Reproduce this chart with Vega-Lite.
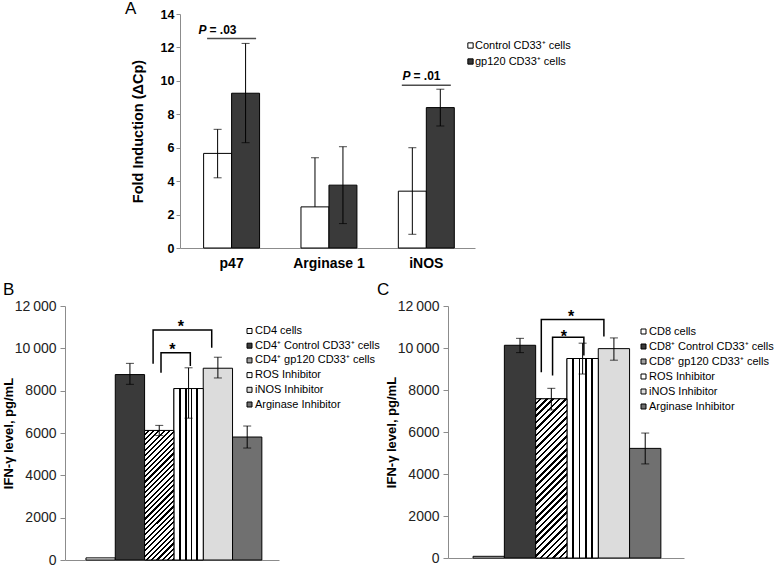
{
  "$schema": "https://vega.github.io/schema/vega-lite/v6.json",
  "padding": {"left": 2, "top": 0, "right": 5, "bottom": 5},
  "background": "white",
  "config": {
    "font": "Liberation Sans",
    "view": {"stroke": null},
    "axis": {"grid": false, "domainColor": "#8c8c8c", "tickColor": "#8c8c8c", "labelColor": "#000000", "titleColor": "#000000", "labelFont": "Liberation Sans", "titleFont": "Liberation Sans"},
    "legend": {"labelFont": "Liberation Sans", "labelColor": "#000000"}
  },
  "resolve": {"scale": {"color": "independent"}, "legend": {"color": "independent"}},
  "columns": 2,
  "spacing": {"row": 58, "column": 169},
  "align": "each",
  "bounds": "flush",
  "concat": [
    {
      "width": 214,
      "height": 234,
      "title": {"text": "A", "anchor": "start", "frame": "group", "dx": 60, "offset": -23, "baseline": "alphabetic", "fontSize": 17, "fontWeight": "normal"},
      "data": {"values": [
        {"gene": "p47", "group": "Control CD33⁺ cells", "v": 5.66, "lo": 4.2, "hi": 7.1},
        {"gene": "p47", "group": "gp120 CD33⁺ cells", "v": 9.26, "lo": 6.3, "hi": 12.24},
        {"gene": "Arginase 1", "group": "Control CD33⁺ cells", "v": 2.46, "lo": 2.46, "hi": 5.4},
        {"gene": "Arginase 1", "group": "gp120 CD33⁺ cells", "v": 3.76, "lo": 1.46, "hi": 6.06},
        {"gene": "iNOS", "group": "Control CD33⁺ cells", "v": 3.4, "lo": 0.82, "hi": 6.0},
        {"gene": "iNOS", "group": "gp120 CD33⁺ cells", "v": 8.4, "lo": 7.3, "hi": 9.5}
      ]},
      "layer": [
        {
          "mark": {"type": "bar", "stroke": "black", "strokeWidth": 1},
          "encoding": {
            "x": {"field": "gene", "type": "nominal", "scale": {"domain": ["p47", "Arginase 1", "iNOS"], "range": [115, 410], "paddingInner": 0, "paddingOuter": 0.015, "align": 1}, "axis": {"title": null, "labelAngle": 0, "labelFontSize": 14, "labelFontWeight": "bold", "ticks": false, "tickSize": 0, "labelPadding": 8}},
            "xOffset": {"field": "group", "type": "nominal", "scale": {"domain": ["Control CD33⁺ cells", "gp120 CD33⁺ cells"], "paddingInner": 0, "paddingOuter": 0.74}},
            "y": {"field": "v", "type": "quantitative", "title": "Fold Induction (ΔCp)", "scale": {"domain": [0, 14]}, "axis": {"values": [0, 2, 4, 6, 8, 10, 12, 14], "tickCount": 8, "labelOverlap": false, "offset": -115, "tickSize": 4, "labelPadding": 2, "labelFontSize": 12.5, "labelFontWeight": "bold", "titleFontSize": 14.5, "titleFontWeight": "bold", "titlePadding": 15}},
            "color": {"field": "group", "type": "nominal", "scale": {"domain": ["Control CD33⁺ cells", "gp120 CD33⁺ cells"], "range": ["#ffffff", "#3a3a3a"]}, "legend": {"orient": "none", "legendX": 400, "legendY": 26, "title": null, "symbolType": "square", "symbolSize": 28, "symbolStrokeColor": "black", "symbolStrokeWidth": 1, "labelFontSize": 11, "labelOffset": -1, "rowPadding": 4, "padding": 0, "labelLimit": 300}}
          }
        },
        {
          "mark": {"type": "rule", "color": "black", "strokeWidth": 1},
          "encoding": {
            "x": {"field": "gene", "type": "nominal", "scale": {"domain": ["p47", "Arginase 1", "iNOS"]}},
            "xOffset": {"field": "group", "type": "nominal", "scale": {"domain": ["Control CD33⁺ cells", "gp120 CD33⁺ cells"]}},
            "y": {"field": "lo", "type": "quantitative", "title": "Fold Induction (ΔCp)"},
            "y2": {"field": "hi"}
          }
        },
        {
          "mark": {"type": "tick", "color": "black", "size": 8, "thickness": 1},
          "encoding": {
            "x": {"field": "gene", "type": "nominal", "scale": {"domain": ["p47", "Arginase 1", "iNOS"]}},
            "xOffset": {"field": "group", "type": "nominal", "scale": {"domain": ["Control CD33⁺ cells", "gp120 CD33⁺ cells"]}},
            "y": {"field": "hi", "type": "quantitative", "title": "Fold Induction (ΔCp)"}
          }
        },
        {
          "transform": [{"filter": "datum.lo < datum.v"}],
          "mark": {"type": "tick", "color": "black", "size": 8, "thickness": 1},
          "encoding": {
            "x": {"field": "gene", "type": "nominal", "scale": {"domain": ["p47", "Arginase 1", "iNOS"]}},
            "xOffset": {"field": "group", "type": "nominal", "scale": {"domain": ["Control CD33⁺ cells", "gp120 CD33⁺ cells"]}},
            "y": {"field": "lo", "type": "quantitative", "title": "Fold Induction (ΔCp)"}
          }
        },
        {
          "data": {"values": [{"gene": "p47", "y": 12.54}]},
          "mark": {"type": "tick", "color": "black", "size": 49, "thickness": 1.5},
          "encoding": {
            "x": {"field": "gene", "type": "nominal", "bandPosition": 0.355, "scale": {"domain": ["p47", "Arginase 1", "iNOS"]}},
            "y": {"field": "y", "type": "quantitative", "title": "Fold Induction (ΔCp)"}
          }
        },
        {
          "data": {"values": [{"gene": "iNOS", "y": 9.74}]},
          "mark": {"type": "tick", "color": "black", "size": 49, "thickness": 1.5},
          "encoding": {
            "x": {"field": "gene", "type": "nominal", "bandPosition": 0.45, "scale": {"domain": ["p47", "Arginase 1", "iNOS"]}},
            "y": {"field": "y", "type": "quantitative", "title": "Fold Induction (ΔCp)"}
          }
        },
        {
          "data": {"values": [{"gene": "p47", "t": 13.05, "p": "P", "rest": "= .03"}]},
          "encoding": {
            "x": {"field": "gene", "type": "nominal", "bandPosition": 0.355, "scale": {"domain": ["p47", "Arginase 1", "iNOS"]}},
            "y": {"field": "t", "type": "quantitative", "title": "Fold Induction (ΔCp)"}
          },
          "layer": [
            {"mark": {"type": "text", "fontSize": 12, "fontWeight": "bold", "fontStyle": "italic", "baseline": "middle", "align": "left", "dx": -19}, "encoding": {"text": {"field": "p"}}},
            {"mark": {"type": "text", "fontSize": 12, "fontWeight": "bold", "baseline": "middle", "align": "left", "dx": -8}, "encoding": {"text": {"field": "rest"}}}
          ]
        },
        {
          "data": {"values": [{"gene": "iNOS", "t": 10.3, "p": "P", "rest": "= .01"}]},
          "encoding": {
            "x": {"field": "gene", "type": "nominal", "bandPosition": 0.45, "scale": {"domain": ["p47", "Arginase 1", "iNOS"]}},
            "y": {"field": "t", "type": "quantitative", "title": "Fold Induction (ΔCp)"}
          },
          "layer": [
            {"mark": {"type": "text", "fontSize": 12, "fontWeight": "bold", "fontStyle": "italic", "baseline": "middle", "align": "left", "dx": -19}, "encoding": {"text": {"field": "p"}}},
            {"mark": {"type": "text", "fontSize": 12, "fontWeight": "bold", "baseline": "middle", "align": "left", "dx": -8}, "encoding": {"text": {"field": "rest"}}}
          ]
        }
      ]
    },
    {
      "width": 1,
      "height": 234,
      "data": {"values": []},
      "mark": "point"
    },
    {
      "width": 214,
      "height": 254,
      "title": {"text": "B", "anchor": "start", "frame": "group", "dx": -62, "offset": -13, "baseline": "alphabetic", "fontSize": 17, "fontWeight": "normal"},
      "data": {"values": [
        {"cond": "CD4 cells", "v": 100, "lo": 100, "hi": 100},
        {"cond": "CD4⁺ Control CD33⁺ cells", "v": 8760, "lo": 8300, "hi": 9290},
        {"cond": "CD4⁺ gp120 CD33⁺ cells", "v": 6120, "lo": 5880, "hi": 6360},
        {"cond": "ROS Inhibitor", "v": 8100, "lo": 6700, "hi": 9080},
        {"cond": "iNOS Inhibitor", "v": 9060, "lo": 8600, "hi": 9580},
        {"cond": "Arginase Inhibitor", "v": 5810, "lo": 5290, "hi": 6330}
      ]},
      "layer": [
        {
          "mark": {"type": "bar", "stroke": "black", "strokeWidth": 1},
          "encoding": {
            "x": {"field": "cond", "type": "nominal", "scale": {"domain": ["CD4 cells", "CD4⁺ Control CD33⁺ cells", "CD4⁺ gp120 CD33⁺ cells", "ROS Inhibitor", "iNOS Inhibitor", "Arginase Inhibitor"], "paddingInner": 0, "paddingOuter": 0.65, "align": 0.55}, "axis": {"title": null, "labels": false, "ticks": false, "tickSize": 0}},
            "y": {"field": "v", "type": "quantitative", "title": "IFN-γ level, pg/mL", "scale": {"domain": [0, 12000]}, "axis": {"values": [0, 2000, 4000, 6000, 8000, 10000, 12000], "labelExpr": "datum.value >= 10000 ? replace(format(datum.value, ','), ',', '\u2009') : format(datum.value, 'd')", "tickSize": 5, "labelPadding": 4, "labelFontSize": 14, "labelColor": "#222222", "titleFontSize": 13, "titleFontWeight": "bold", "titlePadding": -1.5}},
            "color": {"field": "cond", "type": "nominal", "scale": {"domain": ["CD4 cells", "CD4⁺ Control CD33⁺ cells", "CD4⁺ gp120 CD33⁺ cells", "ROS Inhibitor", "iNOS Inhibitor", "Arginase Inhibitor"], "range": ["#ffffff", "#3a3a3a", "#a0a0a0", "#ffffff", "#dcdcdc", "#707070"]}, "legend": {"orient": "none", "legendX": 179, "legendY": 19.5, "title": null, "symbolType": "square", "symbolSize": 25, "symbolStrokeColor": "black", "symbolStrokeWidth": 1, "labelFontSize": 11, "labelOffset": 0, "rowPadding": 2.7, "padding": 0, "labelLimit": 300}}
          }
        },
        {
          "transform": [{"filter": "datum.cond == 'ROS Inhibitor'"}],
          "mark": {"type": "bar", "stroke": "black", "strokeWidth": 1, "fill": {"gradient": "linear", "x1": 0, "y1": 0, "x2": 1, "y2": 0, "stops": [
            {"offset": 0, "color": "#ffffff"}, {"offset": 0.17, "color": "#ffffff"}, {"offset": 0.17, "color": "#000000"}, {"offset": 0.23, "color": "#000000"}, {"offset": 0.23, "color": "#ffffff"},
            {"offset": 0.37, "color": "#ffffff"}, {"offset": 0.37, "color": "#000000"}, {"offset": 0.43, "color": "#000000"}, {"offset": 0.43, "color": "#ffffff"},
            {"offset": 0.57, "color": "#ffffff"}, {"offset": 0.57, "color": "#000000"}, {"offset": 0.63, "color": "#000000"}, {"offset": 0.63, "color": "#ffffff"},
            {"offset": 0.77, "color": "#ffffff"}, {"offset": 0.77, "color": "#000000"}, {"offset": 0.83, "color": "#000000"}, {"offset": 0.83, "color": "#ffffff"}, {"offset": 1, "color": "#ffffff"}]}},
          "encoding": {
            "x": {"field": "cond", "type": "nominal", "scale": {"domain": ["CD4 cells", "CD4⁺ Control CD33⁺ cells", "CD4⁺ gp120 CD33⁺ cells", "ROS Inhibitor", "iNOS Inhibitor", "Arginase Inhibitor"]}},
            "y": {"field": "v", "type": "quantitative", "title": "IFN-γ level, pg/mL"}
          }
        },
        {
          "transform": [{"filter": "datum.cond == 'CD4⁺ gp120 CD33⁺ cells'"}],
          "mark": {"type": "bar", "stroke": "black", "strokeWidth": 1, "fill": {"gradient": "linear", "x1": 0, "y1": 0, "x2": 0.264, "y2": 1.167, "stops": [
            {"offset": 0, "color": "#ffffff"}, {"offset": 0.02, "color": "#ffffff"}, {"offset": 0.02, "color": "#000000"}, {"offset": 0.0333, "color": "#000000"},
            {"offset": 0.0333, "color": "#ffffff"}, {"offset": 0.0533, "color": "#ffffff"}, {"offset": 0.0533, "color": "#000000"}, {"offset": 0.0667, "color": "#000000"},
            {"offset": 0.0667, "color": "#ffffff"}, {"offset": 0.0867, "color": "#ffffff"}, {"offset": 0.0867, "color": "#000000"}, {"offset": 0.1, "color": "#000000"},
            {"offset": 0.1, "color": "#ffffff"}, {"offset": 0.12, "color": "#ffffff"}, {"offset": 0.12, "color": "#000000"}, {"offset": 0.1333, "color": "#000000"},
            {"offset": 0.1333, "color": "#ffffff"}, {"offset": 0.1533, "color": "#ffffff"}, {"offset": 0.1533, "color": "#000000"}, {"offset": 0.1667, "color": "#000000"},
            {"offset": 0.1667, "color": "#ffffff"}, {"offset": 0.1867, "color": "#ffffff"}, {"offset": 0.1867, "color": "#000000"}, {"offset": 0.2, "color": "#000000"},
            {"offset": 0.2, "color": "#ffffff"}, {"offset": 0.22, "color": "#ffffff"}, {"offset": 0.22, "color": "#000000"}, {"offset": 0.2333, "color": "#000000"},
            {"offset": 0.2333, "color": "#ffffff"}, {"offset": 0.2533, "color": "#ffffff"}, {"offset": 0.2533, "color": "#000000"}, {"offset": 0.2667, "color": "#000000"},
            {"offset": 0.2667, "color": "#ffffff"}, {"offset": 0.2867, "color": "#ffffff"}, {"offset": 0.2867, "color": "#000000"}, {"offset": 0.3, "color": "#000000"},
            {"offset": 0.3, "color": "#ffffff"}, {"offset": 0.32, "color": "#ffffff"}, {"offset": 0.32, "color": "#000000"}, {"offset": 0.3333, "color": "#000000"},
            {"offset": 0.3333, "color": "#ffffff"}, {"offset": 0.3533, "color": "#ffffff"}, {"offset": 0.3533, "color": "#000000"}, {"offset": 0.3667, "color": "#000000"},
            {"offset": 0.3667, "color": "#ffffff"}, {"offset": 0.3867, "color": "#ffffff"}, {"offset": 0.3867, "color": "#000000"}, {"offset": 0.4, "color": "#000000"},
            {"offset": 0.4, "color": "#ffffff"}, {"offset": 0.42, "color": "#ffffff"}, {"offset": 0.42, "color": "#000000"}, {"offset": 0.4333, "color": "#000000"},
            {"offset": 0.4333, "color": "#ffffff"}, {"offset": 0.4533, "color": "#ffffff"}, {"offset": 0.4533, "color": "#000000"}, {"offset": 0.4667, "color": "#000000"},
            {"offset": 0.4667, "color": "#ffffff"}, {"offset": 0.4867, "color": "#ffffff"}, {"offset": 0.4867, "color": "#000000"}, {"offset": 0.5, "color": "#000000"},
            {"offset": 0.5, "color": "#ffffff"}, {"offset": 0.52, "color": "#ffffff"}, {"offset": 0.52, "color": "#000000"}, {"offset": 0.5333, "color": "#000000"},
            {"offset": 0.5333, "color": "#ffffff"}, {"offset": 0.5533, "color": "#ffffff"}, {"offset": 0.5533, "color": "#000000"}, {"offset": 0.5667, "color": "#000000"},
            {"offset": 0.5667, "color": "#ffffff"}, {"offset": 0.5867, "color": "#ffffff"}, {"offset": 0.5867, "color": "#000000"}, {"offset": 0.6, "color": "#000000"},
            {"offset": 0.6, "color": "#ffffff"}, {"offset": 0.62, "color": "#ffffff"}, {"offset": 0.62, "color": "#000000"}, {"offset": 0.6333, "color": "#000000"},
            {"offset": 0.6333, "color": "#ffffff"}, {"offset": 0.6533, "color": "#ffffff"}, {"offset": 0.6533, "color": "#000000"}, {"offset": 0.6667, "color": "#000000"},
            {"offset": 0.6667, "color": "#ffffff"}, {"offset": 0.6867, "color": "#ffffff"}, {"offset": 0.6867, "color": "#000000"}, {"offset": 0.7, "color": "#000000"},
            {"offset": 0.7, "color": "#ffffff"}, {"offset": 0.72, "color": "#ffffff"}, {"offset": 0.72, "color": "#000000"}, {"offset": 0.7333, "color": "#000000"},
            {"offset": 0.7333, "color": "#ffffff"}, {"offset": 0.7533, "color": "#ffffff"}, {"offset": 0.7533, "color": "#000000"}, {"offset": 0.7667, "color": "#000000"},
            {"offset": 0.7667, "color": "#ffffff"}, {"offset": 0.7867, "color": "#ffffff"}, {"offset": 0.7867, "color": "#000000"}, {"offset": 0.8, "color": "#000000"},
            {"offset": 0.8, "color": "#ffffff"}, {"offset": 0.82, "color": "#ffffff"}, {"offset": 0.82, "color": "#000000"}, {"offset": 0.8333, "color": "#000000"},
            {"offset": 0.8333, "color": "#ffffff"}, {"offset": 0.8533, "color": "#ffffff"}, {"offset": 0.8533, "color": "#000000"}, {"offset": 0.8667, "color": "#000000"},
            {"offset": 0.8667, "color": "#ffffff"}, {"offset": 0.8867, "color": "#ffffff"}, {"offset": 0.8867, "color": "#000000"}, {"offset": 0.9, "color": "#000000"},
            {"offset": 0.9, "color": "#ffffff"}, {"offset": 0.92, "color": "#ffffff"}, {"offset": 0.92, "color": "#000000"}, {"offset": 0.9333, "color": "#000000"},
            {"offset": 0.9333, "color": "#ffffff"}, {"offset": 0.9533, "color": "#ffffff"}, {"offset": 0.9533, "color": "#000000"}, {"offset": 0.9667, "color": "#000000"},
            {"offset": 0.9667, "color": "#ffffff"}, {"offset": 0.9867, "color": "#ffffff"}, {"offset": 0.9867, "color": "#000000"}, {"offset": 1, "color": "#000000"}]}},
          "encoding": {
            "x": {"field": "cond", "type": "nominal", "scale": {"domain": ["CD4 cells", "CD4⁺ Control CD33⁺ cells", "CD4⁺ gp120 CD33⁺ cells", "ROS Inhibitor", "iNOS Inhibitor", "Arginase Inhibitor"]}},
            "y": {"field": "v", "type": "quantitative", "title": "IFN-γ level, pg/mL"}
          }
        },
        {
          "transform": [{"filter": "datum.hi > datum.v"}],
          "mark": {"type": "rule", "color": "black", "strokeWidth": 1},
          "encoding": {
            "x": {"field": "cond", "type": "nominal", "scale": {"domain": ["CD4 cells", "CD4⁺ Control CD33⁺ cells", "CD4⁺ gp120 CD33⁺ cells", "ROS Inhibitor", "iNOS Inhibitor", "Arginase Inhibitor"]}},
            "y": {"field": "lo", "type": "quantitative", "title": "IFN-γ level, pg/mL"},
            "y2": {"field": "hi"}
          }
        },
        {
          "transform": [{"filter": "datum.hi > datum.v"}],
          "mark": {"type": "tick", "color": "black", "size": 8, "thickness": 1},
          "encoding": {
            "x": {"field": "cond", "type": "nominal", "scale": {"domain": ["CD4 cells", "CD4⁺ Control CD33⁺ cells", "CD4⁺ gp120 CD33⁺ cells", "ROS Inhibitor", "iNOS Inhibitor", "Arginase Inhibitor"]}},
            "y": {"field": "hi", "type": "quantitative", "title": "IFN-γ level, pg/mL"}
          }
        },
        {
          "transform": [{"filter": "datum.hi > datum.v"}],
          "mark": {"type": "tick", "color": "black", "size": 8, "thickness": 1},
          "encoding": {
            "x": {"field": "cond", "type": "nominal", "scale": {"domain": ["CD4 cells", "CD4⁺ Control CD33⁺ cells", "CD4⁺ gp120 CD33⁺ cells", "ROS Inhibitor", "iNOS Inhibitor", "Arginase Inhibitor"]}},
            "y": {"field": "lo", "type": "quantitative", "title": "IFN-γ level, pg/mL"}
          }
        },
        {
          "data": {"values": [
            {"cond": "CD4⁺ gp120 CD33⁺ cells", "y": 9270, "k": 1},
            {"cond": "CD4⁺ gp120 CD33⁺ cells", "y": 10870, "k": 2},
            {"cond": "iNOS Inhibitor", "y": 10870, "k": 3},
            {"cond": "iNOS Inhibitor", "y": 10030, "k": 4}
          ]},
          "mark": {"type": "line", "color": "black", "strokeWidth": 1.5},
          "encoding": {
            "x": {"field": "cond", "type": "nominal", "bandPosition": 0.29, "scale": {"domain": ["CD4 cells", "CD4⁺ Control CD33⁺ cells", "CD4⁺ gp120 CD33⁺ cells", "ROS Inhibitor", "iNOS Inhibitor", "Arginase Inhibitor"]}},
            "y": {"field": "y", "type": "quantitative", "title": "IFN-γ level, pg/mL"},
            "order": {"field": "k", "type": "quantitative"}
          }
        },
        {
          "data": {"values": [
            {"cond": "CD4⁺ gp120 CD33⁺ cells", "y": 8850, "k": 1},
            {"cond": "CD4⁺ gp120 CD33⁺ cells", "y": 9795, "k": 2},
            {"cond": "ROS Inhibitor", "y": 9795, "k": 3},
            {"cond": "ROS Inhibitor", "y": 9165, "k": 4}
          ]},
          "mark": {"type": "line", "color": "black", "strokeWidth": 1.5},
          "encoding": {
            "x": {"field": "cond", "type": "nominal", "bandPosition": 0.56, "scale": {"domain": ["CD4 cells", "CD4⁺ Control CD33⁺ cells", "CD4⁺ gp120 CD33⁺ cells", "ROS Inhibitor", "iNOS Inhibitor", "Arginase Inhibitor"]}},
            "y": {"field": "y", "type": "quantitative", "title": "IFN-γ level, pg/mL"},
            "order": {"field": "k", "type": "quantitative"}
          }
        },
        {
          "data": {"values": [{"cond": "ROS Inhibitor", "y": 10870, "s": "*"}]},
          "mark": {"type": "text", "fontSize": 16, "fontWeight": "bold", "baseline": "alphabetic", "align": "center", "dy": 2},
          "encoding": {
            "x": {"field": "cond", "type": "nominal", "bandPosition": 0.235, "scale": {"domain": ["CD4 cells", "CD4⁺ Control CD33⁺ cells", "CD4⁺ gp120 CD33⁺ cells", "ROS Inhibitor", "iNOS Inhibitor", "Arginase Inhibitor"]}},
            "y": {"field": "y", "type": "quantitative", "title": "IFN-γ level, pg/mL"},
            "text": {"field": "s"}
          }
        },
        {
          "data": {"values": [{"cond": "CD4⁺ gp120 CD33⁺ cells", "y": 9795, "s": "*"}]},
          "mark": {"type": "text", "fontSize": 16, "fontWeight": "bold", "baseline": "alphabetic", "align": "center", "dy": 2},
          "encoding": {
            "x": {"field": "cond", "type": "nominal", "bandPosition": 0.95, "scale": {"domain": ["CD4 cells", "CD4⁺ Control CD33⁺ cells", "CD4⁺ gp120 CD33⁺ cells", "ROS Inhibitor", "iNOS Inhibitor", "Arginase Inhibitor"]}},
            "y": {"field": "y", "type": "quantitative", "title": "IFN-γ level, pg/mL"},
            "text": {"field": "s"}
          }
        }
      ]
    },
    {
      "width": 236,
      "height": 252,
      "title": {"text": "C", "anchor": "start", "frame": "group", "dx": -71, "offset": -13, "baseline": "alphabetic", "fontSize": 17, "fontWeight": "normal"},
      "data": {"values": [
        {"cond": "CD8 cells", "v": 80, "lo": 80, "hi": 80},
        {"cond": "CD8⁺ Control CD33⁺ cells", "v": 10130, "lo": 9780, "hi": 10460},
        {"cond": "CD8⁺ gp120 CD33⁺ cells", "v": 7580, "lo": 7050, "hi": 8080},
        {"cond": "ROS Inhibitor", "v": 9500, "lo": 8760, "hi": 10230},
        {"cond": "iNOS Inhibitor", "v": 9970, "lo": 9420, "hi": 10480},
        {"cond": "Arginase Inhibitor", "v": 5220, "lo": 4480, "hi": 5950}
      ]},
      "layer": [
        {
          "mark": {"type": "bar", "stroke": "black", "strokeWidth": 1},
          "encoding": {
            "x": {"field": "cond", "type": "nominal", "scale": {"domain": ["CD8 cells", "CD8⁺ Control CD33⁺ cells", "CD8⁺ gp120 CD33⁺ cells", "ROS Inhibitor", "iNOS Inhibitor", "Arginase Inhibitor"], "paddingInner": 0, "paddingOuter": 0.77, "align": 0.52}, "axis": {"title": null, "labels": false, "ticks": false, "tickSize": 0}},
            "y": {"field": "v", "type": "quantitative", "title": "IFN-γ level, pg/mL", "scale": {"domain": [0, 12000]}, "axis": {"values": [0, 2000, 4000, 6000, 8000, 10000, 12000], "labelExpr": "datum.value >= 10000 ? replace(format(datum.value, ','), ',', '\u2009') : format(datum.value, 'd')", "tickSize": 5, "labelPadding": 4, "labelFontSize": 14, "labelColor": "#222222", "titleFontSize": 13, "titleFontWeight": "bold", "titlePadding": -1.5}},
            "color": {"field": "cond", "type": "nominal", "scale": {"domain": ["CD8 cells", "CD8⁺ Control CD33⁺ cells", "CD8⁺ gp120 CD33⁺ cells", "ROS Inhibitor", "iNOS Inhibitor", "Arginase Inhibitor"], "range": ["#ffffff", "#3a3a3a", "#a0a0a0", "#ffffff", "#dcdcdc", "#707070"]}, "legend": {"orient": "none", "legendX": 190, "legendY": 20, "title": null, "symbolType": "square", "symbolSize": 25, "symbolStrokeColor": "black", "symbolStrokeWidth": 1, "labelFontSize": 11, "labelOffset": 0, "rowPadding": 3.0, "padding": 0, "labelLimit": 300}}
          }
        },
        {
          "transform": [{"filter": "datum.cond == 'ROS Inhibitor'"}],
          "mark": {"type": "bar", "stroke": "black", "strokeWidth": 1, "fill": {"gradient": "linear", "x1": 0, "y1": 0, "x2": 1, "y2": 0, "stops": [
            {"offset": 0, "color": "#ffffff"}, {"offset": 0.17, "color": "#ffffff"}, {"offset": 0.17, "color": "#000000"}, {"offset": 0.23, "color": "#000000"}, {"offset": 0.23, "color": "#ffffff"},
            {"offset": 0.37, "color": "#ffffff"}, {"offset": 0.37, "color": "#000000"}, {"offset": 0.43, "color": "#000000"}, {"offset": 0.43, "color": "#ffffff"},
            {"offset": 0.57, "color": "#ffffff"}, {"offset": 0.57, "color": "#000000"}, {"offset": 0.63, "color": "#000000"}, {"offset": 0.63, "color": "#ffffff"},
            {"offset": 0.77, "color": "#ffffff"}, {"offset": 0.77, "color": "#000000"}, {"offset": 0.83, "color": "#000000"}, {"offset": 0.83, "color": "#ffffff"}, {"offset": 1, "color": "#ffffff"}]}},
          "encoding": {
            "x": {"field": "cond", "type": "nominal", "scale": {"domain": ["CD8 cells", "CD8⁺ Control CD33⁺ cells", "CD8⁺ gp120 CD33⁺ cells", "ROS Inhibitor", "iNOS Inhibitor", "Arginase Inhibitor"]}},
            "y": {"field": "v", "type": "quantitative", "title": "IFN-γ level, pg/mL"}
          }
        },
        {
          "transform": [{"filter": "datum.cond == 'CD8⁺ gp120 CD33⁺ cells'"}],
          "mark": {"type": "bar", "stroke": "black", "strokeWidth": 1, "fill": {"gradient": "linear", "x1": 0, "y1": 0, "x2": 0.2265, "y2": 1.152, "stops": [
            {"offset": 0, "color": "#ffffff"}, {"offset": 0.02, "color": "#ffffff"}, {"offset": 0.02, "color": "#000000"}, {"offset": 0.0333, "color": "#000000"},
            {"offset": 0.0333, "color": "#ffffff"}, {"offset": 0.0533, "color": "#ffffff"}, {"offset": 0.0533, "color": "#000000"}, {"offset": 0.0667, "color": "#000000"},
            {"offset": 0.0667, "color": "#ffffff"}, {"offset": 0.0867, "color": "#ffffff"}, {"offset": 0.0867, "color": "#000000"}, {"offset": 0.1, "color": "#000000"},
            {"offset": 0.1, "color": "#ffffff"}, {"offset": 0.12, "color": "#ffffff"}, {"offset": 0.12, "color": "#000000"}, {"offset": 0.1333, "color": "#000000"},
            {"offset": 0.1333, "color": "#ffffff"}, {"offset": 0.1533, "color": "#ffffff"}, {"offset": 0.1533, "color": "#000000"}, {"offset": 0.1667, "color": "#000000"},
            {"offset": 0.1667, "color": "#ffffff"}, {"offset": 0.1867, "color": "#ffffff"}, {"offset": 0.1867, "color": "#000000"}, {"offset": 0.2, "color": "#000000"},
            {"offset": 0.2, "color": "#ffffff"}, {"offset": 0.22, "color": "#ffffff"}, {"offset": 0.22, "color": "#000000"}, {"offset": 0.2333, "color": "#000000"},
            {"offset": 0.2333, "color": "#ffffff"}, {"offset": 0.2533, "color": "#ffffff"}, {"offset": 0.2533, "color": "#000000"}, {"offset": 0.2667, "color": "#000000"},
            {"offset": 0.2667, "color": "#ffffff"}, {"offset": 0.2867, "color": "#ffffff"}, {"offset": 0.2867, "color": "#000000"}, {"offset": 0.3, "color": "#000000"},
            {"offset": 0.3, "color": "#ffffff"}, {"offset": 0.32, "color": "#ffffff"}, {"offset": 0.32, "color": "#000000"}, {"offset": 0.3333, "color": "#000000"},
            {"offset": 0.3333, "color": "#ffffff"}, {"offset": 0.3533, "color": "#ffffff"}, {"offset": 0.3533, "color": "#000000"}, {"offset": 0.3667, "color": "#000000"},
            {"offset": 0.3667, "color": "#ffffff"}, {"offset": 0.3867, "color": "#ffffff"}, {"offset": 0.3867, "color": "#000000"}, {"offset": 0.4, "color": "#000000"},
            {"offset": 0.4, "color": "#ffffff"}, {"offset": 0.42, "color": "#ffffff"}, {"offset": 0.42, "color": "#000000"}, {"offset": 0.4333, "color": "#000000"},
            {"offset": 0.4333, "color": "#ffffff"}, {"offset": 0.4533, "color": "#ffffff"}, {"offset": 0.4533, "color": "#000000"}, {"offset": 0.4667, "color": "#000000"},
            {"offset": 0.4667, "color": "#ffffff"}, {"offset": 0.4867, "color": "#ffffff"}, {"offset": 0.4867, "color": "#000000"}, {"offset": 0.5, "color": "#000000"},
            {"offset": 0.5, "color": "#ffffff"}, {"offset": 0.52, "color": "#ffffff"}, {"offset": 0.52, "color": "#000000"}, {"offset": 0.5333, "color": "#000000"},
            {"offset": 0.5333, "color": "#ffffff"}, {"offset": 0.5533, "color": "#ffffff"}, {"offset": 0.5533, "color": "#000000"}, {"offset": 0.5667, "color": "#000000"},
            {"offset": 0.5667, "color": "#ffffff"}, {"offset": 0.5867, "color": "#ffffff"}, {"offset": 0.5867, "color": "#000000"}, {"offset": 0.6, "color": "#000000"},
            {"offset": 0.6, "color": "#ffffff"}, {"offset": 0.62, "color": "#ffffff"}, {"offset": 0.62, "color": "#000000"}, {"offset": 0.6333, "color": "#000000"},
            {"offset": 0.6333, "color": "#ffffff"}, {"offset": 0.6533, "color": "#ffffff"}, {"offset": 0.6533, "color": "#000000"}, {"offset": 0.6667, "color": "#000000"},
            {"offset": 0.6667, "color": "#ffffff"}, {"offset": 0.6867, "color": "#ffffff"}, {"offset": 0.6867, "color": "#000000"}, {"offset": 0.7, "color": "#000000"},
            {"offset": 0.7, "color": "#ffffff"}, {"offset": 0.72, "color": "#ffffff"}, {"offset": 0.72, "color": "#000000"}, {"offset": 0.7333, "color": "#000000"},
            {"offset": 0.7333, "color": "#ffffff"}, {"offset": 0.7533, "color": "#ffffff"}, {"offset": 0.7533, "color": "#000000"}, {"offset": 0.7667, "color": "#000000"},
            {"offset": 0.7667, "color": "#ffffff"}, {"offset": 0.7867, "color": "#ffffff"}, {"offset": 0.7867, "color": "#000000"}, {"offset": 0.8, "color": "#000000"},
            {"offset": 0.8, "color": "#ffffff"}, {"offset": 0.82, "color": "#ffffff"}, {"offset": 0.82, "color": "#000000"}, {"offset": 0.8333, "color": "#000000"},
            {"offset": 0.8333, "color": "#ffffff"}, {"offset": 0.8533, "color": "#ffffff"}, {"offset": 0.8533, "color": "#000000"}, {"offset": 0.8667, "color": "#000000"},
            {"offset": 0.8667, "color": "#ffffff"}, {"offset": 0.8867, "color": "#ffffff"}, {"offset": 0.8867, "color": "#000000"}, {"offset": 0.9, "color": "#000000"},
            {"offset": 0.9, "color": "#ffffff"}, {"offset": 0.92, "color": "#ffffff"}, {"offset": 0.92, "color": "#000000"}, {"offset": 0.9333, "color": "#000000"},
            {"offset": 0.9333, "color": "#ffffff"}, {"offset": 0.9533, "color": "#ffffff"}, {"offset": 0.9533, "color": "#000000"}, {"offset": 0.9667, "color": "#000000"},
            {"offset": 0.9667, "color": "#ffffff"}, {"offset": 0.9867, "color": "#ffffff"}, {"offset": 0.9867, "color": "#000000"}, {"offset": 1, "color": "#000000"}]}},
          "encoding": {
            "x": {"field": "cond", "type": "nominal", "scale": {"domain": ["CD8 cells", "CD8⁺ Control CD33⁺ cells", "CD8⁺ gp120 CD33⁺ cells", "ROS Inhibitor", "iNOS Inhibitor", "Arginase Inhibitor"]}},
            "y": {"field": "v", "type": "quantitative", "title": "IFN-γ level, pg/mL"}
          }
        },
        {
          "transform": [{"filter": "datum.hi > datum.v"}],
          "mark": {"type": "rule", "color": "black", "strokeWidth": 1},
          "encoding": {
            "x": {"field": "cond", "type": "nominal", "scale": {"domain": ["CD8 cells", "CD8⁺ Control CD33⁺ cells", "CD8⁺ gp120 CD33⁺ cells", "ROS Inhibitor", "iNOS Inhibitor", "Arginase Inhibitor"]}},
            "y": {"field": "lo", "type": "quantitative", "title": "IFN-γ level, pg/mL"},
            "y2": {"field": "hi"}
          }
        },
        {
          "transform": [{"filter": "datum.hi > datum.v"}],
          "mark": {"type": "tick", "color": "black", "size": 8, "thickness": 1},
          "encoding": {
            "x": {"field": "cond", "type": "nominal", "scale": {"domain": ["CD8 cells", "CD8⁺ Control CD33⁺ cells", "CD8⁺ gp120 CD33⁺ cells", "ROS Inhibitor", "iNOS Inhibitor", "Arginase Inhibitor"]}},
            "y": {"field": "hi", "type": "quantitative", "title": "IFN-γ level, pg/mL"}
          }
        },
        {
          "transform": [{"filter": "datum.hi > datum.v"}],
          "mark": {"type": "tick", "color": "black", "size": 8, "thickness": 1},
          "encoding": {
            "x": {"field": "cond", "type": "nominal", "scale": {"domain": ["CD8 cells", "CD8⁺ Control CD33⁺ cells", "CD8⁺ gp120 CD33⁺ cells", "ROS Inhibitor", "iNOS Inhibitor", "Arginase Inhibitor"]}},
            "y": {"field": "lo", "type": "quantitative", "title": "IFN-γ level, pg/mL"}
          }
        },
        {
          "data": {"values": [
            {"cond": "CD8⁺ gp120 CD33⁺ cells", "y": 8840, "k": 1},
            {"cond": "CD8⁺ gp120 CD33⁺ cells", "y": 11360, "k": 2},
            {"cond": "iNOS Inhibitor", "y": 11360, "k": 3},
            {"cond": "iNOS Inhibitor", "y": 10545, "k": 4}
          ]},
          "mark": {"type": "line", "color": "black", "strokeWidth": 1.5},
          "encoding": {
            "x": {"field": "cond", "type": "nominal", "bandPosition": 0.18, "scale": {"domain": ["CD8 cells", "CD8⁺ Control CD33⁺ cells", "CD8⁺ gp120 CD33⁺ cells", "ROS Inhibitor", "iNOS Inhibitor", "Arginase Inhibitor"]}},
            "y": {"field": "y", "type": "quantitative", "title": "IFN-γ level, pg/mL"},
            "order": {"field": "k", "type": "quantitative"}
          }
        },
        {
          "data": {"values": [
            {"cond": "CD8⁺ gp120 CD33⁺ cells", "y": 8690, "k": 1},
            {"cond": "CD8⁺ gp120 CD33⁺ cells", "y": 10510, "k": 2},
            {"cond": "ROS Inhibitor", "y": 10510, "k": 3},
            {"cond": "ROS Inhibitor", "y": 9640, "k": 4}
          ]},
          "mark": {"type": "line", "color": "black", "strokeWidth": 1.5},
          "encoding": {
            "x": {"field": "cond", "type": "nominal", "bandPosition": 0.54, "scale": {"domain": ["CD8 cells", "CD8⁺ Control CD33⁺ cells", "CD8⁺ gp120 CD33⁺ cells", "ROS Inhibitor", "iNOS Inhibitor", "Arginase Inhibitor"]}},
            "y": {"field": "y", "type": "quantitative", "title": "IFN-γ level, pg/mL"},
            "order": {"field": "k", "type": "quantitative"}
          }
        },
        {
          "data": {"values": [{"cond": "ROS Inhibitor", "y": 11360, "s": "*"}]},
          "mark": {"type": "text", "fontSize": 16, "fontWeight": "bold", "baseline": "alphabetic", "align": "center", "dy": 2.5},
          "encoding": {
            "x": {"field": "cond", "type": "nominal", "bandPosition": 0.13, "scale": {"domain": ["CD8 cells", "CD8⁺ Control CD33⁺ cells", "CD8⁺ gp120 CD33⁺ cells", "ROS Inhibitor", "iNOS Inhibitor", "Arginase Inhibitor"]}},
            "y": {"field": "y", "type": "quantitative", "title": "IFN-γ level, pg/mL"},
            "text": {"field": "s"}
          }
        },
        {
          "data": {"values": [{"cond": "CD8⁺ gp120 CD33⁺ cells", "y": 10510, "s": "*"}]},
          "mark": {"type": "text", "fontSize": 16, "fontWeight": "bold", "baseline": "alphabetic", "align": "center", "dy": 5},
          "encoding": {
            "x": {"field": "cond", "type": "nominal", "bandPosition": 0.9, "scale": {"domain": ["CD8 cells", "CD8⁺ Control CD33⁺ cells", "CD8⁺ gp120 CD33⁺ cells", "ROS Inhibitor", "iNOS Inhibitor", "Arginase Inhibitor"]}},
            "y": {"field": "y", "type": "quantitative", "title": "IFN-γ level, pg/mL"},
            "text": {"field": "s"}
          }
        }
      ]
    }
  ]
}
